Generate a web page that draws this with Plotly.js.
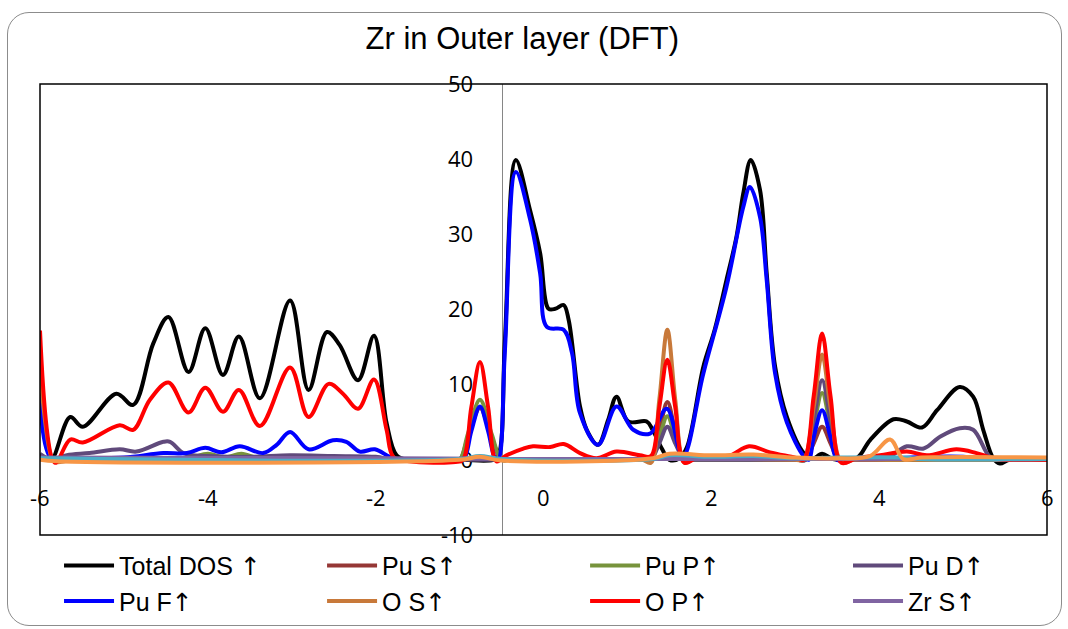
<!DOCTYPE html>
<html>
<head>
<meta charset="utf-8">
<script src="https://cdn.plot.ly/plotly-3.0.1.min.js"></script>
<style>
  html, body { margin: 0; padding: 0; background: #ffffff; }
  #wrap { position: relative; width: 1068px; height: 629px; overflow: hidden; }
  #chart { position: absolute; left: 0; top: 0; width: 1068px; height: 629px; }
  #frame {
    position: absolute; left: 7px; top: 12px; width: 1053px; height: 612px;
    border: 1.5px solid #8c8c8c; border-radius: 22px; pointer-events: none;
  }
</style>
</head>
<body>
<div id="wrap">
  <div id="chart"></div>
  <div id="frame"></div>
</div>
<script>
// Energy axis ticks (eV) and DOS axis ticks
const xTickVals = [-6, -4, -2, 0, 2, 4, 6];
const yTickVals = [-10, 0, 10, 20, 30, 40, 50];

// Total DOS (spin up)
const totalX = [-6, -5.86, -5.64, -5.49, -5.09, -4.89, -4.65, -4.47, -4.23, -4.03, -3.82, -3.63, -3.38, -3.02, -2.80, -2.58, -2.43, -2.21, -2.02, -1.87, -1.75, -1.6, -1.0, -0.6, -0.54, -0.46, -0.33, -0.16, -0.04, 0.06, 0.14, 0.24, 0.30, 0.435, 0.515, 0.65, 0.77, 0.87, 1.01, 1.23, 1.30, 1.41, 1.50, 1.62, 1.71, 1.905, 2.04, 2.18, 2.30, 2.38, 2.47, 2.58, 2.66, 2.76, 2.90, 3.10, 3.20, 3.32, 3.45, 3.73, 3.89, 4.17, 4.33, 4.51, 4.69, 4.96, 5.12, 5.24, 5.36, 5.44, 5.55, 6];
const totalY = [13, 0.2, 5.7, 4.4, 8.8, 7.3, 15.5, 19.0, 11.7, 17.5, 11.3, 16.4, 8.2, 21.2, 9.3, 17.0, 15.3, 10.6, 16.5, 4.9, 0.6, 0, 0, 0, 0.5, 15.9, 39.9, 33.2, 27.5, 20.1, 20.1, 20.6, 18.6, 7.1, 4.0, 2.0, 5.3, 8.4, 5.1, 5.1, 4.0, 1.5, 0, 0.2, 1.7, 12.4, 17.3, 23.9, 29.7, 35.4, 39.9, 35.9, 24.8, 12.4, 5.7, 0.9, 0.1, 0.8, 0.1, 0.2, 2.6, 5.4, 5.1, 4.3, 6.6, 9.7, 8.4, 4.0, 0.2, -0.5, 0, 0];

// Pu s
const puSX = [-6, -5.85, -5.5, -1.1, -1.0, -0.9, -0.757, -0.62, -0.5, -0.4, 1.18, 1.28, 1.38, 1.476, 1.57, 1.68, 1.78, 3.02, 3.12, 3.22, 3.32, 3.42, 3.52, 3.62, 6];
const puSY = [0.3, 0, 0, 0, 0, 3.0, 6.9, 3.0, 0, 0, 0, 0, 3.8, 7.7, 3.8, 0, 0, 0, 0, 2.2, 4.4, 2.2, 0, 0, 0];

// Pu p
const puPX = [-6, -5.85, -5.5, -4.4, -4.2, -4.0, -3.8, -3.6, -3.4, -3.2, -1.8, -1.1, -1.0, -0.9, -0.757, -0.62, -0.5, -0.4, 1.18, 1.28, 1.38, 1.476, 1.57, 1.68, 1.78, 3.02, 3.12, 3.22, 3.32, 3.42, 3.52, 3.62, 6];
const puPY = [0.5, 0, 0, 0.1, 0.3, 0.8, 0.3, 0.8, 0.2, 0.1, 0.1, 0, 0, 3.5, 8.0, 3.5, 0, 0, 0, 0, 3.0, 5.8, 3.0, 0, 0, 0, 0, 4.5, 8.9, 4.5, 0, 0, 0];

// Pu d
const puDX = [-6, -5.85, -5.68, -5.41, -5.05, -4.85, -4.53, -4.45, -4.29, -4.0, -3.5, -3.02, -2.5, -2.0, -1.8, -1.6, 1.18, 1.28, 1.38, 1.476, 1.57, 1.68, 1.78, 3.02, 3.12, 3.22, 3.32, 3.42, 3.52, 3.62, 4.0, 4.1, 4.33, 4.53, 4.73, 4.96, 5.12, 5.32, 5.45, 5.6, 6];
const puDY = [0.8, 0, 0.6, 0.9, 1.4, 1.1, 2.4, 2.4, 0.9, 0.5, 0.4, 0.6, 0.5, 0.4, 0, 0, 0, 0, 2.2, 4.4, 2.2, 0, 0, 0, 0, 5.3, 10.6, 5.3, 0, 0, 0, 0.2, 1.8, 1.5, 3.1, 4.2, 4.0, 0.4, 0, 0, 0];

// Pu f
const puFX = [-6, -5.86, -5.6, -5.0, -4.53, -4.25, -4.03, -3.84, -3.62, -3.34, -3.18, -3.02, -2.80, -2.51, -2.35, -2.19, -2.01, -1.83, -1.7, -1.1, -1.0, -0.94, -0.86, -0.757, -0.66, -0.58, -0.54, -0.46, -0.33, -0.16, -0.04, 0.04, 0.24, 0.34, 0.435, 0.65, 0.87, 1.07, 1.27, 1.47, 1.66, 1.905, 2.18, 2.38, 2.46, 2.58, 2.66, 2.76, 2.90, 3.10, 3.16, 3.22, 3.32, 3.42, 3.50, 3.6, 4.0, 4.6, 5.0, 5.3, 5.5, 6];
const puFY = [8.5, 0.1, 0.2, 0.3, 0.9, 0.9, 1.6, 1.0, 1.8, 0.9, 2.0, 3.7, 1.4, 2.6, 2.4, 1.1, 1.4, 0.4, 0, 0, 0, 0.3, 3.8, 7.1, 3.8, 0.3, 0, 14.5, 38.3, 32.0, 24.8, 17.7, 17.3, 14.2, 6.2, 2.0, 7.1, 4.0, 3.5, 6.8, 0.4, 11.5, 23.0, 33.6, 36.3, 32.3, 23.9, 11.5, 5.0, 0.5, 0, 3.0, 6.6, 3.0, 0, 0, 0.1, 0.4, 0.4, 0.1, 0, 0];

// O s
const oSX = [-6, -5.85, -5.8, -5.6, -1.1, -1.0, -0.757, -0.5, -0.4, 1.0, 1.18, 1.28, 1.38, 1.476, 1.57, 1.68, 1.8, 1.9, 3.0, 3.1, 3.22, 3.32, 3.42, 3.55, 3.7, 3.8, 6];
const oSY = [12, 0, -0.3, 0, 0, 0, 0.3, 0, 0, 0.1, 0, -0.4, 8.0, 17.3, 8.0, -0.4, 0.2, 0.2, 0, 0, 7.0, 14.0, 7.0, -0.3, 0, 0, 0];

// O p
const oPX = [-6, -5.82, -5.64, -5.49, -5.05, -4.89, -4.69, -4.47, -4.23, -4.03, -3.82, -3.63, -3.38, -3.02, -2.80, -2.56, -2.39, -2.21, -2.02, -1.87, -1.79, -1.6, -1.05, -0.96, -0.86, -0.757, -0.66, -0.56, -0.44, -0.24, -0.125, 0.08, 0.24, 0.435, 0.63, 0.87, 1.15, 1.28, 1.38, 1.476, 1.57, 1.68, 1.85, 2.2, 2.45, 2.7, 3.0, 3.1, 3.22, 3.32, 3.42, 3.55, 3.73, 4.01, 4.33, 4.57, 4.92, 5.16, 5.36, 5.5, 5.6, 6];
const oPY = [17.2, -0.4, 2.7, 2.3, 4.6, 4.0, 8.0, 10.3, 6.3, 9.6, 6.4, 9.3, 4.5, 12.3, 5.7, 10.1, 8.8, 6.8, 10.7, 4.0, 0.4, -0.2, -0.3, 0, 7.0, 13.0, 7.0, -0.2, 0.6, 1.5, 1.8, 1.7, 2.1, 0.9, 0.2, 1.1, 0.6, 0.5, 7.0, 13.3, 7.0, -0.4, 0.4, 0.5, 1.8, 1.0, 0.3, 0, 8.5, 16.8, 8.5, -0.4, 0.2, 0.6, 1.1, 0.6, 1.4, 0.9, 0.2, 0, 0, 0];

// Zr s
const zrSX = [-6, -1.8, 0, 2, 4, 6];
const zrSY = [0.3, 0.2, 0.1, 0.1, 0.1, 0.1];

// Zr p
const zrPX = [-6, -1.0, -0.76, -0.5, 1.3, 1.5, 2.0, 2.5, 3.0, 3.5, 4.3, 4.5, 6];
const zrPY = [0.2, 0.1, 0.5, 0.1, 0.1, 0.6, 0.4, 0.5, 0.2, 0.3, 0.3, 0.1, 0.1];

// Zr d
const zrDX = [-6, -5.8, -1.0, -0.76, -0.5, 1.3, 1.5, 2.0, 2.5, 3.0, 3.5, 3.89, 4.13, 4.29, 4.5, 6];
const zrDY = [0, -0.2, 0, 0.4, -0.1, 0.2, 0.8, 0.6, 0.7, 0.3, 0.2, 0.5, 2.7, 0.1, 0.3, 0.3];

const arrow = '<span style="font-family:DejaVu Sans">↑</span>';

function series(name, x, y, color, legend) {
  return {
    type: 'scatter', mode: 'lines', name: name, x: x, y: y,
    line: { color: color, width: 4, shape: 'spline', smoothing: 1 },
    legend: legend || 'legend', showlegend: !!legend, legendgroup: name,
    hoverinfo: 'skip'
  };
}

const traces = [
  series('Total DOS ' + arrow, totalX, totalY, '#000000', 'legend'),
  series('Pu S' + arrow, puSX, puSY, '#953735', 'legend2'),
  series('Pu P' + arrow, puPX, puPY, '#77933c', 'legend3'),
  series('Pu D' + arrow, puDX, puDY, '#604a7b', 'legend4'),
  series('Pu F' + arrow, puFX, puFY, '#0000ff', 'legend'),
  series('O S' + arrow, oSX, oSY, '#c8793a', 'legend2'),
  series('O P' + arrow, oPX, oPY, '#ff0000', 'legend3'),
  series('Zr S' + arrow, zrSX, zrSY, '#8064a2', 'legend4'),
  series('Zr P', zrPX, zrPY, '#4bacc6', null),
  series('Zr D', zrDX, zrDY, '#f79646', null)
];

const tickFont = { family: 'Open Sans, Liberation Sans, sans-serif', size: 22, color: '#000000' };
const legendFont = { family: 'Liberation Sans, Arial, sans-serif', size: 25, color: '#000000' };

// energy labels sit at y = -5 inside the plot
const xLabels = xTickVals.map(v => ({
  x: v, y: -5, xref: 'x', yref: 'y', text: String(v), showarrow: false,
  xanchor: 'center', yanchor: 'middle', font: tickFont
}));

function legendColumn(x) {
  return {
    orientation: 'v', x: x, xanchor: 'left', y: -0.017, yanchor: 'top',
    font: legendFont, itemwidth: 50, tracegroupgap: 2,
    bgcolor: 'rgba(0,0,0,0)', borderwidth: 0, traceorder: 'normal'
  };
}

const layout = {
  width: 1068, height: 629,
  margin: { l: 40, r: 21, t: 84, b: 94, pad: 0, autoexpand: false },
  paper_bgcolor: '#ffffff', plot_bgcolor: '#ffffff',
  title: {
    text: 'Zr in Outer layer (DFT)',
    font: { family: 'Liberation Sans, Arial, sans-serif', size: 31, color: '#000000' },
    xref: 'container', x: 0.489, xanchor: 'center',
    yref: 'container', y: 0.94, yanchor: 'middle'
  },
  xaxis: {
    range: [-6, 6], showgrid: false, zeroline: false, showline: false,
    showticklabels: false, ticks: ''
  },
  yaxis: {
    range: [-10, 50], tickvals: yTickVals, ticktext: yTickVals.map(String),
    showgrid: false, zeroline: true, zerolinecolor: '#868686', zerolinewidth: 1.5,
    showline: true, linecolor: '#868686', linewidth: 1.5,
    anchor: 'free', position: (-0.5 + 6) / 12, side: 'left',
    ticks: '', ticklabelstandoff: 24, tickfont: tickFont, layer: 'below traces'
  },
  showlegend: true,
  legend: legendColumn(0.0189),
  legend2: legendColumn(0.2801),
  legend3: legendColumn(0.5413),
  legend4: legendColumn(0.8024),
  annotations: xLabels,
  shapes: [{
    type: 'rect', xref: 'paper', yref: 'paper', x0: 0, x1: 1, y0: 0, y1: 1,
    line: { color: '#000000', width: 1.5 }, layer: 'above'
  }]
};

Plotly.newPlot('chart', traces, layout, { staticPlot: true, displayModeBar: false });
</script>
</body>
</html>
